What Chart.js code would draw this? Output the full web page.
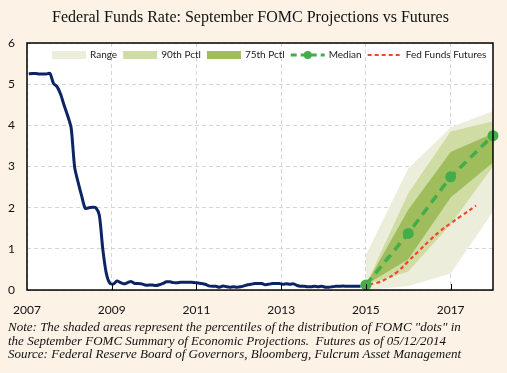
<!DOCTYPE html>
<html>
<head>
<meta charset="utf-8">
<script src="https://cdn.jsdelivr.net/npm/chart.js@4.4.0/dist/chart.umd.min.js"></script>
<style>
  html, body { margin: 0; padding: 0; background: #fcf2e6; }
  #wrap { width: 507px; height: 373px; position: relative; }
</style>
</head>
<body>
<div id="wrap"><canvas id="grafico"></canvas></div>
<script>
// effective fed funds rate, monthly from Jan 2007 to Nov 2014
const fedFundsStart = 2007;
const fedFunds = [
  5.25, 5.26, 5.26, 5.25, 5.25, 5.25, 5.26, 5.02, 4.94, 4.76, 4.49, 4.24,
  3.94, 2.98, 2.61, 2.28, 1.98, 2.00, 2.01, 2.00, 1.81, 0.97, 0.39, 0.16,
  0.15, 0.22, 0.18, 0.15, 0.18, 0.21, 0.16, 0.16, 0.15, 0.12, 0.12, 0.12,
  0.11, 0.13, 0.16, 0.20, 0.20, 0.18, 0.18, 0.19, 0.19, 0.19, 0.19, 0.18,
  0.17, 0.16, 0.14, 0.10, 0.09, 0.09, 0.07, 0.10, 0.08, 0.07, 0.08, 0.07,
  0.08, 0.10, 0.13, 0.14, 0.16, 0.16, 0.16, 0.13, 0.14, 0.16, 0.16, 0.16,
  0.14, 0.15, 0.14, 0.15, 0.11, 0.09, 0.09, 0.08, 0.08, 0.09, 0.08, 0.09,
  0.07, 0.07, 0.08, 0.09, 0.09, 0.10, 0.09, 0.09, 0.09, 0.09, 0.09
];

// FOMC september projections (year end)
const projYears = [2015, 2016, 2017, 2018];
const rangeLow  = [0.00, 0.10, 0.40, 1.90];
const rangeHigh = [0.85, 2.95, 3.95, 4.35];
const pct90Low  = [0.125, 0.45, 1.60, 3.00];
const pct90High = [0.125, 2.35, 3.85, 4.10];
const pct75Low  = [0.125, 0.75, 2.25, 3.10];
const pct75High = [0.125, 1.95, 3.35, 3.80];
const median    = [0.125, 1.375, 2.75, 3.75];

// fed funds futures curve
const futuresYears = [2014.92, 2015.25, 2015.5, 2015.75, 2016.0, 2016.25, 2016.5, 2016.75, 2017.0, 2017.25, 2017.6];
const futures      = [0.12, 0.17, 0.28, 0.45, 0.70, 0.95, 1.20, 1.43, 1.62, 1.80, 2.05];

const xTickYears = [2007, 2009, 2011, 2013, 2015, 2017];
const legendLabels = ['Range', '90th Pctl', '75th Pctl', 'Median', 'Fed Funds Futures'];
const titulo = 'Federal Funds Rate: September FOMC Projections vs Futures';
const noteLines = [
  'Note: The shaded areas represent the percentiles of the distribution of FOMC "dots" in',
  'the September FOMC Summary of Economic Projections.  Futures as of 05/12/2014',
  'Source: Federal Reserve Board of Governors, Bloomberg, Fulcrum Asset Management'
];

const COR_RANGE = '#eceedb';
const COR_90 = '#cfdca3';
const COR_75 = '#a0bd5d';
const COR_MEDIAN = '#43ad4b';
const COR_FUT = '#f0472c';
const COR_NAVY = '#0b2463';
const COR_GRID = '#d6d6d6';
const FONTE = 'Lato';

const pts = (xs, ys) => xs.map((x, i) => ({ x: x, y: ys[i] }));
const area = (data, fill, color, order) => ({
  data: data, fill: fill, backgroundColor: color, borderWidth: 0,
  pointRadius: 0, tension: 0, order: order
});

// frame, white plot background and the legend inside the plot
const moldura = {
  id: 'moldura',
  beforeDraw(chart) {
    const { ctx, chartArea: a } = chart;
    ctx.save();
    ctx.fillStyle = '#ffffff';
    ctx.fillRect(a.left, a.top, a.right - a.left, a.bottom - a.top);
    ctx.restore();
  },
  afterDraw(chart) {
    const { ctx, chartArea: a } = chart;
    const sx = chart.scales.x;
    ctx.save();
    ctx.strokeStyle = '#000';
    ctx.lineWidth = 1.5;
    ctx.strokeRect(a.left, a.top, a.right - a.left, a.bottom - a.top);
    ctx.lineWidth = 1;
    xTickYears.slice(1).forEach(v => {
      const px = Math.round(sx.getPixelForValue(v)) + 0.5;
      ctx.beginPath();
      ctx.moveTo(px, a.bottom);
      ctx.lineTo(px, a.bottom - 6);
      ctx.stroke();
    });

    // legend
    const itens = [
      { kind: 'box', color: COR_RANGE },
      { kind: 'box', color: COR_90 },
      { kind: 'box', color: COR_75 },
      { kind: 'line', color: COR_MEDIAN, dash: [6, 4], width: 3, dot: true },
      { kind: 'line', color: COR_FUT, dash: [4, 3], width: 2 }
    ];
    ctx.font = '10px ' + FONTE;
    ctx.textBaseline = 'middle';
    let x = a.left + 25;
    const y = a.top + 12;
    itens.forEach((it, i) => {
      if (it.kind === 'box') {
        ctx.fillStyle = it.color;
        ctx.fillRect(x, y - 4, 34, 8);
      } else {
        ctx.strokeStyle = it.color;
        ctx.lineWidth = it.width;
        ctx.setLineDash(it.dash);
        ctx.beginPath();
        ctx.moveTo(x, y);
        ctx.lineTo(x + 34, y);
        ctx.stroke();
        ctx.setLineDash([]);
        if (it.dot) {
          ctx.fillStyle = it.color;
          ctx.beginPath();
          ctx.arc(x + 17, y, 4, 0, Math.PI * 2);
          ctx.fill();
        }
      }
      x += 38;
      ctx.fillStyle = '#1a1a1a';
      ctx.fillText(legendLabels[i], x, y);
      x += ctx.measureText(legendLabels[i]).width + 6;
    });
    ctx.restore();
  }
};

const ctx = document.getElementById('grafico');
new Chart(ctx, {
  type: 'line',
  data: {
    datasets: [
      area(pts(projYears, rangeHigh), 1, COR_RANGE, 9),
      area(pts(projYears, rangeLow), false, COR_RANGE, 9),
      area(pts(projYears, pct90High), 3, COR_90, 8),
      area(pts(projYears, pct90Low), false, COR_90, 8),
      area(pts(projYears, pct75High), 5, COR_75, 7),
      area(pts(projYears, pct75Low), false, COR_75, 7),
      {
        data: fedFunds.map((v, i) => ({ x: fedFundsStart + (i + 0.5) / 12, y: v })),
        borderColor: COR_NAVY, borderWidth: 3, pointRadius: 0, tension: 0.25,
        fill: false, order: 4
      },
      {
        data: pts(futuresYears, futures),
        borderColor: COR_FUT, borderWidth: 2.2, borderDash: [4, 3], pointRadius: 0,
        tension: 0.4, fill: false, order: 3
      },
      {
        data: pts(projYears, median),
        borderColor: COR_MEDIAN, borderWidth: 3.5, borderDash: [9, 6],
        pointRadius: 5.5, pointBackgroundColor: COR_MEDIAN, pointBorderWidth: 0,
        tension: 0, fill: false, order: 2, clip: false
      }
    ]
  },
  options: {
    responsive: true,
    maintainAspectRatio: false,
    animation: false,
    events: [],
    layout: { padding: { left: 8, right: 14, top: 0, bottom: 0 } },
    plugins: {
      legend: { display: false },
      tooltip: { enabled: false },
      title: {
        display: true, text: titulo, color: '#111',
        font: { family: 'Liberation Serif', size: 16, weight: 'normal' },
        padding: { top: 8, bottom: 15.8 }
      },
      subtitle: {
        display: true, position: 'bottom', align: 'start', text: noteLines, color: '#111',
        font: { family: 'Liberation Serif', size: 13, style: 'italic', lineHeight: 1.04 },
        padding: { top: 0, bottom: 11.4 }
      }
    },
    scales: {
      x: {
        type: 'linear', min: 2007, max: 2018,
        afterBuildTicks: s => { s.ticks = xTickYears.map(v => ({ value: v })); },
        afterFit: s => { s.height = 31; },
        ticks: {
          callback: v => String(v), padding: 13, maxRotation: 0, autoSkip: false,
          color: '#111', font: { family: FONTE, size: 12 }
        },
        grid: { color: COR_GRID, drawTicks: false },
        border: { display: false, dash: [4, 3] }
      },
      y: {
        min: 0, max: 6,
        afterFit: s => { s.width = 19; },
        ticks: { stepSize: 1, padding: 12, color: '#111', font: { family: FONTE, size: 12 } },
        grid: { color: COR_GRID, drawTicks: false },
        border: { display: false, dash: [4, 3] }
      }
    }
  },
  plugins: [moldura]
});
</script>
</body>
</html>
